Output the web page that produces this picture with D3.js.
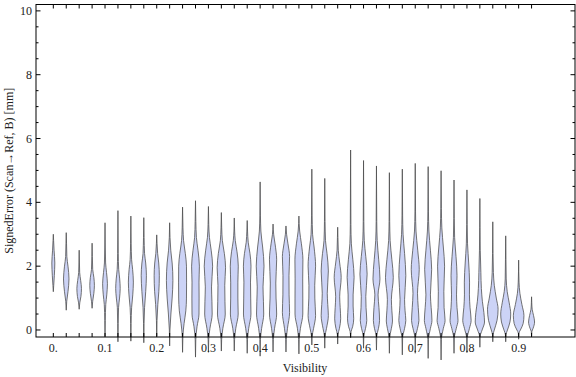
<!DOCTYPE html>
<html>
<head>
<meta charset="utf-8">
<script src="https://cdn.jsdelivr.net/npm/d3@7"></script>
<style>
  html, body { margin: 0; padding: 0; background: #fff; }
  svg { display: block; }
  text { font-family: "Liberation Serif", "DejaVu Serif", serif; fill: #222; }
</style>
</head>
<body>
<svg id="chart" width="576" height="377"></svg>
<script>
// ---- data ----
const visibility = [0, 0.025, 0.05, 0.075, 0.1, 0.125, 0.15, 0.175, 0.2, 0.225,
  0.25, 0.275, 0.3, 0.325, 0.35, 0.375, 0.4, 0.425, 0.45, 0.475,
  0.5, 0.525, 0.55, 0.575, 0.6, 0.625, 0.65, 0.675, 0.7, 0.725,
  0.75, 0.775, 0.8, 0.825, 0.85, 0.875, 0.9, 0.925];

const xTickValues = [0, 0.1, 0.2, 0.3, 0.4, 0.5, 0.6, 0.7, 0.8, 0.9];
const xTickLabels = ["0.", "0.1", "0.2", "0.3", "0.4", "0.5", "0.6", "0.7", "0.8", "0.9"];
const yTickValues = [0, 2, 4, 6, 8, 10];
const yMinorValues = [0.5, 1, 1.5, 2.5, 3, 3.5, 4.5, 5, 5.5, 6.5, 7, 7.5, 8.5, 9, 9.5];

// density profiles: [signed error (mm), relative density]
const profiles = [
  [[1.2,0],[1.4,0.08],[1.7,0.2],[2.1,0.3],[2.5,0.15],[2.8,0.06],[3.0,0]],
  [[0.62,0],[0.9,0.1],[1.2,0.35],[1.6,0.55],[2.0,0.35],[2.3,0.12],[2.7,0.06],[3.05,0]],
  [[0.65,0],[0.85,0.12],[1.05,0.35],[1.3,0.46],[1.55,0.3],[1.8,0.1],[2.1,0.05],[2.5,0]],
  [[0.68,0],[0.9,0.12],[1.15,0.35],[1.4,0.46],[1.65,0.35],[1.9,0.12],[2.3,0.05],[2.72,0]],
  [[-0.2,0],[0.3,0.05],[0.8,0.15],[1.1,0.35],[1.45,0.48],[1.8,0.3],[2.1,0.12],[2.6,0.05],[3.36,0]],
  [[-0.37,0],[0.2,0.05],[0.7,0.12],[1.0,0.32],[1.3,0.45],[1.6,0.35],[1.9,0.15],[2.4,0.06],[3.74,0]],
  [[-0.35,0],[0.2,0.05],[0.7,0.15],[1.1,0.38],[1.5,0.5],[1.9,0.35],[2.2,0.15],[2.7,0.06],[3.57,0]],
  [[-0.4,0],[0.2,0.05],[0.7,0.15],[1.2,0.38],[1.7,0.52],[2.1,0.38],[2.4,0.15],[2.9,0.06],[3.52,0]],
  [[-0.2,0],[0.3,0.06],[0.8,0.22],[1.2,0.42],[1.7,0.52],[2.1,0.4],[2.4,0.18],[2.7,0.07],[2.98,0]],
  [[-0.5,0],[0.0,0.06],[0.5,0.25],[1.0,0.5],[1.55,0.65],[2.1,0.5],[2.5,0.22],[2.9,0.07],[3.36,0]],
  [[-0.7,0],[-0.2,0.06],[0.2,0.3],[0.6,0.65],[1.0,0.78],[1.5,0.8],[2.0,0.78],[2.4,0.55],[2.8,0.2],[3.2,0.08],[3.85,0]],
  [[-0.85,0],[-0.3,0.06],[0.1,0.3],[0.5,0.7],[1.0,0.72],[1.5,0.7],[2.0,0.78],[2.5,0.5],[2.9,0.18],[3.4,0.07],[4.05,0]],
  [[-0.7,0],[-0.3,0.06],[0.05,0.3],[0.5,0.75],[0.9,0.7],[1.35,0.62],[2.0,0.84],[2.5,0.55],[2.9,0.2],[3.3,0.07],[3.87,0]],
  [[-0.66,0],[-0.3,0.06],[0.05,0.3],[0.5,0.78],[0.9,0.72],[1.4,0.68],[1.95,0.84],[2.4,0.6],[2.8,0.2],[3.2,0.07],[3.68,0]],
  [[-0.66,0],[-0.3,0.06],[0.05,0.3],[0.5,0.78],[1.0,0.72],[1.5,0.72],[2.0,0.8],[2.45,0.55],[2.8,0.2],[3.1,0.07],[3.51,0]],
  [[-0.73,0],[-0.3,0.06],[0.05,0.3],[0.5,0.75],[1.0,0.7],[1.5,0.66],[2.0,0.76],[2.4,0.55],[2.75,0.2],[3.1,0.07],[3.43,0]],
  [[-0.82,0],[-0.3,0.06],[0.05,0.3],[0.5,0.72],[0.9,0.66],[1.35,0.58],[2.0,0.78],[2.6,0.5],[3.1,0.15],[3.6,0.06],[4.64,0]],
  [[-0.69,0],[-0.3,0.06],[0.05,0.3],[0.5,0.72],[1.0,0.6],[1.47,0.55],[2.2,0.72],[2.7,0.4],[3.0,0.12],[3.32,0]],
  [[-0.69,0],[-0.3,0.06],[0.05,0.3],[0.55,0.72],[1.1,0.62],[1.7,0.6],[2.3,0.72],[2.7,0.4],[3.0,0.12],[3.26,0]],
  [[-0.75,0],[-0.3,0.06],[0.05,0.3],[0.5,0.78],[1.0,0.78],[1.6,0.76],[2.2,0.8],[2.7,0.5],[3.1,0.15],[3.57,0]],
  [[-0.47,0],[-0.2,0.06],[0.05,0.35],[0.45,0.75],[1.0,0.6],[1.4,0.58],[2.0,0.75],[2.6,0.45],[3.0,0.15],[3.6,0.06],[5.04,0]],
  [[-0.57,0],[-0.2,0.06],[0.05,0.35],[0.45,0.72],[0.8,0.6],[1.15,0.5],[1.85,0.72],[2.4,0.45],[2.8,0.15],[3.4,0.06],[4.75,0]],
  [[-0.44,0],[-0.15,0.06],[0.05,0.35],[0.35,0.6],[0.7,0.5],[1.04,0.4],[1.65,0.7],[2.1,0.4],[2.5,0.12],[2.9,0.05],[3.22,0]],
  [[-0.25,0],[-0.05,0.1],[0.1,0.4],[0.35,0.62],[0.75,0.5],[1.1,0.5],[1.65,0.7],[2.2,0.45],[2.7,0.15],[3.3,0.06],[5.64,0]],
  [[-0.57,0],[-0.2,0.06],[0.05,0.4],[0.3,0.65],[0.7,0.5],[1.05,0.45],[1.75,0.72],[2.3,0.45],[2.8,0.15],[3.4,0.06],[5.31,0]],
  [[-0.63,0],[-0.2,0.06],[0.05,0.4],[0.3,0.62],[0.7,0.5],[1.1,0.32],[1.6,0.7],[2.2,0.45],[2.8,0.15],[3.4,0.06],[5.14,0]],
  [[-0.73,0],[-0.25,0.06],[0.05,0.4],[0.28,0.62],[0.6,0.5],[0.95,0.4],[1.65,0.78],[2.2,0.5],[2.8,0.15],[3.4,0.06],[4.93,0]],
  [[-0.78,0],[-0.25,0.06],[0.05,0.45],[0.3,0.7],[0.6,0.55],[0.95,0.45],[1.7,0.7],[2.4,0.45],[3.0,0.15],[3.6,0.06],[5.04,0]],
  [[-0.73,0],[-0.25,0.06],[0.05,0.45],[0.3,0.74],[0.7,0.6],[1.15,0.45],[1.9,0.8],[2.5,0.5],[3.1,0.15],[3.7,0.06],[5.22,0]],
  [[-0.89,0],[-0.3,0.06],[0.05,0.45],[0.3,0.76],[0.7,0.6],[1.1,0.45],[1.9,0.7],[2.5,0.45],[3.1,0.15],[3.7,0.06],[5.12,0]],
  [[-0.94,0],[-0.3,0.06],[0.05,0.45],[0.3,0.8],[0.7,0.6],[1.2,0.55],[2.0,0.7],[2.6,0.45],[3.2,0.15],[3.8,0.06],[4.99,0]],
  [[-0.73,0],[-0.25,0.06],[0.05,0.45],[0.3,0.8],[0.7,0.6],[1.1,0.5],[1.7,0.6],[2.3,0.4],[2.9,0.12],[3.5,0.05],[4.70,0]],
  [[-0.71,0],[-0.25,0.06],[0.05,0.5],[0.3,0.84],[0.7,0.62],[1.1,0.5],[1.5,0.52],[2.1,0.35],[2.7,0.12],[3.3,0.05],[4.39,0]],
  [[-0.54,0],[-0.2,0.06],[0.0,0.45],[0.25,0.93],[0.55,0.8],[0.9,0.5],[1.3,0.3],[1.8,0.2],[2.5,0.08],[3.2,0.04],[4.12,0]],
  [[-0.37,0],[-0.15,0.06],[0.0,0.3],[0.3,0.85],[0.65,1.06],[1.0,0.7],[1.4,0.3],[1.8,0.12],[2.4,0.05],[3.39,0]],
  [[-0.37,0],[-0.15,0.06],[0.0,0.35],[0.25,0.85],[0.5,1.0],[0.85,0.7],[1.2,0.3],[1.6,0.1],[2.2,0.05],[2.95,0]],
  [[-0.29,0],[-0.1,0.06],[0.0,0.35],[0.2,0.9],[0.45,1.06],[0.8,0.65],[1.15,0.25],[1.5,0.08],[2.19,0]],
  [[-0.19,0],[-0.05,0.06],[0.05,0.3],[0.25,0.6],[0.45,0.4],[0.65,0.12],[0.85,0.04],[1.04,0]]
];

// ---- layout ----
const svg = d3.select("#chart");
const mLeft = 36, mRight = 575, mTop = 4.5, mBottom = 337;

const x = d3.scaleLinear().domain([-0.0335, 1.009]).range([mLeft, mRight]);
const y = d3.scaleLinear().domain([-0.22, 10.2]).range([mBottom, mTop]);
const w = d3.scaleLinear().domain([0, 1]).range([0, 5]);

// violins
const g = svg.append("g");
profiles.forEach((prof, i) => {
  const cx = x(visibility[i]);
  const area = d3.area()
    .curve(d3.curveMonotoneY)
    .y(d => y(d[0]))
    .x0(d => cx - w(d[1]))
    .x1(d => cx + w(d[1]));
  g.append("path")
    .attr("d", area(prof))
    .attr("fill", "#ccd3f6")
    .attr("stroke", "#4a4a4a")
    .attr("stroke-opacity", 0.85)
    .attr("stroke-width", 0.9);
});

// frame
svg.append("rect")
  .attr("x", mLeft).attr("y", mTop)
  .attr("width", mRight - mLeft).attr("height", mBottom - mTop)
  .attr("fill", "none").attr("stroke", "#000").attr("stroke-width", 1);

const ticks = svg.append("g").attr("stroke", "#000").attr("stroke-width", 1);
visibility.forEach(v => {
  const px = x(v);
  ticks.append("line").attr("x1", px).attr("x2", px).attr("y1", mBottom).attr("y2", mBottom - 4);
  ticks.append("line").attr("x1", px).attr("x2", px).attr("y1", mTop).attr("y2", mTop + 4);
});
yTickValues.forEach(v => {
  const py = y(v);
  ticks.append("line").attr("x1", mLeft).attr("x2", mLeft + 4.5).attr("y1", py).attr("y2", py);
  ticks.append("line").attr("x1", mRight).attr("x2", mRight - 4.5).attr("y1", py).attr("y2", py);
});
yMinorValues.forEach(v => {
  const py = y(v);
  ticks.append("line").attr("x1", mLeft).attr("x2", mLeft + 2.5).attr("y1", py).attr("y2", py);
  ticks.append("line").attr("x1", mRight).attr("x2", mRight - 2.5).attr("y1", py).attr("y2", py);
});

// tick labels
xTickValues.forEach((v, i) => {
  svg.append("text")
    .attr("x", x(v)).attr("y", 352)
    .attr("text-anchor", "middle")
    .attr("font-size", 12)
    .text(xTickLabels[i]);
});
yTickValues.forEach(v => {
  svg.append("text")
    .attr("x", 32).attr("y", y(v) + 4)
    .attr("text-anchor", "end")
    .attr("font-size", 12)
    .text(String(v));
});

// axis titles
svg.append("text")
  .attr("x", 305).attr("y", 372)
  .attr("text-anchor", "middle")
  .attr("font-size", 12)
  .text("Visibility");

svg.append("text")
  .attr("transform", "translate(13," + ((mTop + mBottom) / 2) + ") rotate(-90)")
  .attr("text-anchor", "middle")
  .attr("font-size", 12)
  .text("SignedError (Scan\u2192Ref, B) [mm]");
</script>
</body>
</html>
